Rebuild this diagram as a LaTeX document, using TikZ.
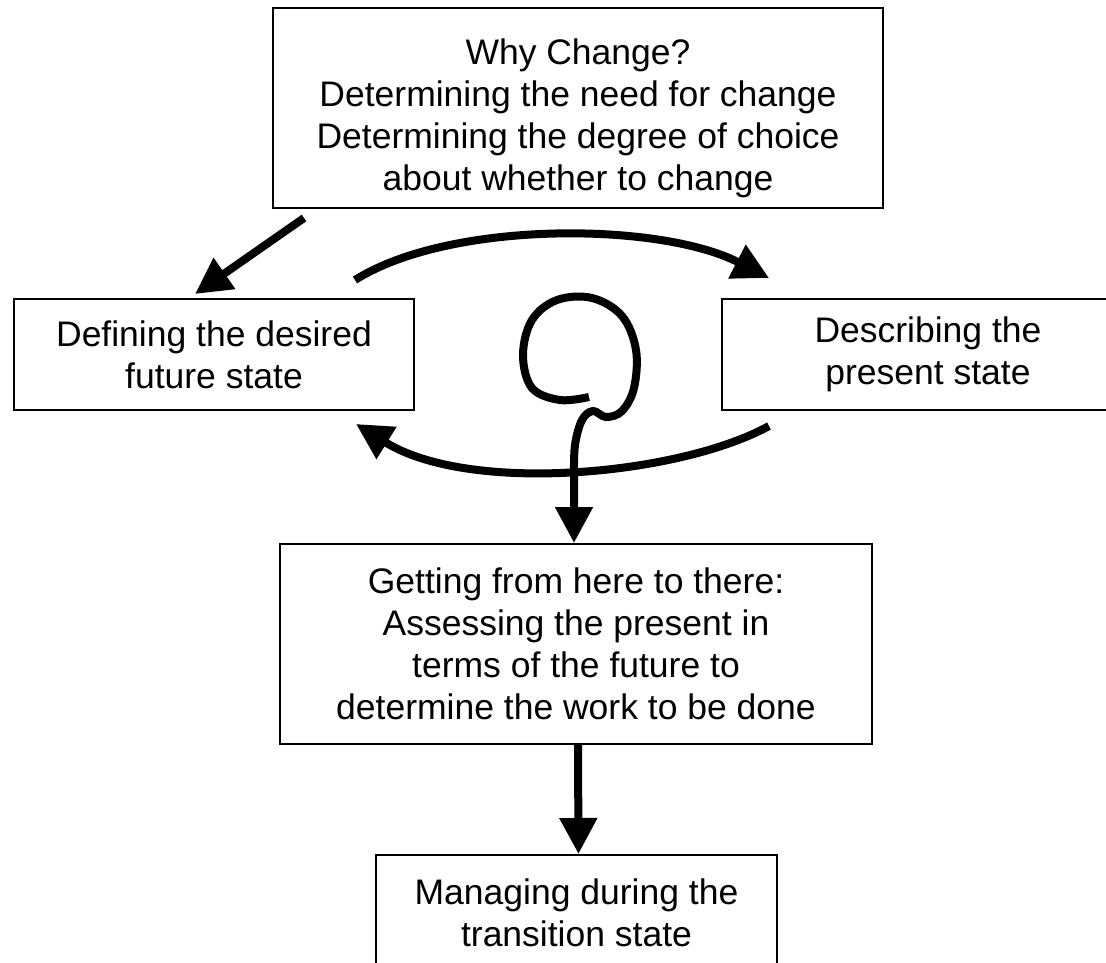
\documentclass[tikz,border=0pt]{standalone}
\usepackage{fontspec}
\setmainfont{Liberation Sans}
\usetikzlibrary{arrows.meta}
\begin{document}
\begin{tikzpicture}[x=1pt,y=-1pt,
  box/.style={draw,line width=2pt,rectangle,inner sep=0pt,align=center,
    font=\fontsize{35.5}{42}\selectfont},
  arr/.style={line width=8pt,-{Triangle[length=36pt,width=36pt]}}]
\useasboundingbox (0,0) rectangle (1106,962);
\begin{scope}
\clip (0,0) rectangle (1106,962);
\node[box,minimum width=610pt,minimum height=200pt] (why) at (578,108)
  {\rule{0pt}{45.9pt}Why Change?\\Determining the need for change\\Determining the degree of choice\\about whether to change};
\node[box,minimum width=400pt,minimum height=111pt] (fut) at (214,354.5)
  {Defining the desired\\future state};
\node[box,minimum width=412pt,minimum height=111pt] (pres) at (928,354.5)
  {Describing the\\present state};
\node[box,minimum width=592pt,minimum height=200pt] (get) at (576,644)
  {Getting from here to there:\\Assessing the present in\\terms of the future to\\determine the work to be done};
\node[box,minimum width=401pt,minimum height=116pt] (man) at (576.5,913)
  {Managing during the\\transition state};

\draw[arr] ([shift={(32,9)}]why.south west) -- ([shift={(-19,-4)}]fut.north);
\coordinate (u1) at (355,280);
\draw[arr] (u1) .. controls (450,220) and (660,222) .. ([shift={(48,-20)}]pres.north west);
\draw[arr] ([shift={(48,15)}]pres.south west) .. controls (680,475) and (470,495) .. ([shift={(-59,13)}]fut.south east);
\draw[line width=8pt,-{Triangle[length=36pt,width=36pt]}]
  plot[smooth,tension=0.6] coordinates {(589,397) (560,400) (532,388) (523,355) (532,320) (557,300) (592,298) (622,316) (636,350) (634,388) (622,411) (606,417) (593,411) (582,420) (575,445) (574,475)}
  -- ([xshift=-2pt]get.north);
\draw[arr] ([xshift=2pt]get.south) -- ([xshift=2pt]man.north);
\end{scope}
\end{tikzpicture}
\end{document}
